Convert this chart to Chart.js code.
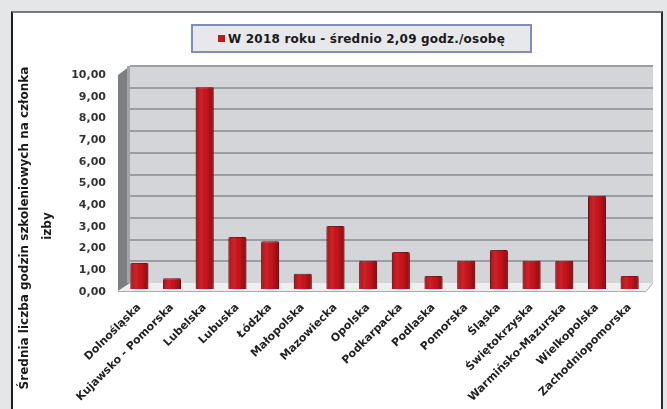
<!doctype html>
<html>
  <head>
    <meta charset="utf-8">
    <title>Średnia liczba godzin szkoleniowych</title>
    <script src="https://cdn.jsdelivr.net/npm/chart.js@4.4.1/dist/chart.umd.min.js"></script>
    <style>
      body { margin:0; background:#e5e6e8; width:667px; height:409px; overflow:hidden; position:relative; font-family:"DejaVu Sans", sans-serif; }
      #ramka { position:absolute; left:11px; top:11px; width:648px; height:400px; background:#fff;
               border-left:2px solid #1e1e1e; border-top:2px solid #7a7a7a; border-right:2px solid #2a2a2a; }
      #wykres { position:absolute; left:0; top:0; }
      #legenda { position:absolute; left:191px; top:24px; width:341px; height:29px; box-sizing:border-box;
                 border:2px solid #7f8dbd; background:#e7e8eb; display:flex; align-items:center; justify-content:center;
                 font:bold 12px "DejaVu Sans", sans-serif; letter-spacing:0.2px; color:#1a1a1a; }
      #legenda span.kolor { display:inline-block; width:7px; height:7px; margin-right:3px; }
    </style>
  </head>
  <body>
    <div id="ramka"></div>
    <canvas id="wykres" width="667" height="409"></canvas>
    <div id="legenda"></div>
    <script>
      const wojewodztwa = ['Dolnośląska','Kujawsko - Pomorska','Lubelska','Lubuska','Łódzka','Małopolska',
        'Mazowiecka','Opolska','Podkarpacka','Podlaska','Pomorska','Śląska','Świętokrzyska',
        'Warmińsko-Mazurska','Wielkopolska','Zachodniopomorska'];
      const godziny = [1.2, 0.5, 9.3, 2.4, 2.2, 0.7, 2.9, 1.3, 1.7, 0.6, 1.3, 1.8, 1.3, 1.3, 4.3, 0.6];
      const seriaNazwa = 'W 2018 roku - średnio 2,09 godz./osobę';
      const osYTytul = ['Średnia liczba godzin szkoleniowych na członka', 'izby'];
      const osYMin = 0, osYMax = 10, osYKrok = 1;

      // sciany "3D": tylna sciana z liniami siatki, lewa sciana i podloga
      const sciany = {
        id: 'sciany',
        beforeDatasetsDraw(chart) {
          const ctx = chart.ctx, a = chart.chartArea, y = chart.scales.y;
          const gx = 7, gy = 6;
          const zero = y.getPixelForValue(osYMin), gora = y.getPixelForValue(osYMax);
          ctx.save();
          // tylna sciana
          ctx.fillStyle = '#d3d5d8';
          ctx.fillRect(a.left + gx, gora - gy, a.right - a.left, zero - gora);
          // linie siatki
          ctx.strokeStyle = '#9b9ea2';
          ctx.lineWidth = 2;
          for (let v = osYMin + osYKrok; v <= osYMax; v += osYKrok) {
            const p = Math.round(y.getPixelForValue(v) - gy);
            ctx.beginPath();
            ctx.moveTo(a.left + gx, p);
            ctx.lineTo(a.right + gx, p);
            ctx.stroke();
          }
          // podloga
          ctx.fillStyle = '#eeeff0';
          ctx.beginPath();
          ctx.moveTo(a.left - 5, zero + 2);
          ctx.lineTo(a.right, zero + 2);
          ctx.lineTo(a.right + gx, zero - gy);
          ctx.lineTo(a.left + gx, zero - gy);
          ctx.closePath();
          ctx.fill();
          ctx.strokeStyle = '#a8abaf';
          ctx.lineWidth = 1;
          ctx.beginPath();
          ctx.moveTo(a.left - 5, zero + 2.5);
          ctx.lineTo(a.right, zero + 2.5);
          ctx.lineTo(a.right + gx, zero - gy);
          ctx.stroke();
          // lewa sciana
          ctx.fillStyle = '#7c7e82';
          ctx.beginPath();
          ctx.moveTo(a.left - 5, gora + 3);
          ctx.lineTo(a.left + gx, gora - gy);
          ctx.lineTo(a.left + gx, zero - gy);
          ctx.lineTo(a.left - 5, zero + 2);
          ctx.closePath();
          ctx.fill();
          ctx.fillStyle = '#a2a4a8';
          ctx.fillRect(a.left + gx - 3, gora - gy, 3, zero - gora);
          ctx.restore();
        },
        afterDatasetsDraw(chart) {
          // cieniowanie slupkow, zeby wygladaly na walce
          const ctx = chart.ctx;
          ctx.save();
          chart.getDatasetMeta(0).data.forEach(bar => {
            const l = bar.x - bar.width / 2, r = bar.x + bar.width / 2;
            const g = ctx.createLinearGradient(l, 0, r, 0);
            g.addColorStop(0, 'rgba(60,0,0,0.35)');
            g.addColorStop(0.35, 'rgba(255,120,120,0.12)');
            g.addColorStop(0.6, 'rgba(0,0,0,0)');
            g.addColorStop(1, 'rgba(60,0,0,0.4)');
            ctx.fillStyle = g;
            ctx.fillRect(l, bar.y, bar.width, bar.base - bar.y);
          });
          ctx.restore();
        },
        afterDraw(chart) {
          // tytul osi Y w dwoch wierszach
          const ctx = chart.ctx;
          ctx.save();
          ctx.fillStyle = '#1a1a1a';
          ctx.font = 'bold 12px "DejaVu Sans"';
          ctx.textAlign = 'center';
          ctx.textBaseline = 'middle';
          [[25, 228], [48, 226]].forEach((p, i) => {
            ctx.save();
            ctx.translate(p[0], p[1]);
            ctx.rotate(-Math.PI / 2);
            ctx.fillText(osYTytul[i], 0, 0);
            ctx.restore();
          });
          ctx.restore();
        }
      };

      // legenda w HTML z elementow legendy wykresu
      const legendaHtml = {
        id: 'legendaHtml',
        afterUpdate(chart) {
          const box = document.getElementById('legenda');
          box.innerHTML = '';
          chart.options.plugins.legend.labels.generateLabels(chart).forEach(item => {
            const k = document.createElement('span');
            k.className = 'kolor';
            k.style.background = item.fillStyle;
            box.appendChild(k);
            box.appendChild(document.createTextNode(item.text));
          });
        }
      };

      new Chart(document.getElementById('wykres'), {
        type: 'bar',
        data: {
          labels: wojewodztwa,
          datasets: [{
            label: seriaNazwa,
            data: godziny,
            backgroundColor: '#c8141c',
            borderColor: '#8f0c12',
            borderWidth: 1,
            borderRadius: 2,
            borderSkipped: 'bottom',
            barPercentage: 0.55,
            categoryPercentage: 1
          }]
        },
        options: {
          responsive: false,
          animation: false,
          layout: { padding: { top: 72, right: 21, bottom: 0, left: 0 } },
          plugins: {
            legend: { display: false },
            tooltip: { enabled: false }
          },
          scales: {
            x: {
              grid: { display: false, drawTicks: false },
              border: { display: false },
              ticks: {
                autoSkip: false, minRotation: 45, maxRotation: 45, padding: 12,
                color: '#222', font: { family: 'DejaVu Sans', size: 11, weight: 'bold' }
              },
              afterFit: s => { s.height = 120; }
            },
            y: {
              min: osYMin, max: osYMax,
              grid: { display: false, drawTicks: false },
              border: { display: false },
              ticks: {
                stepSize: osYKrok, padding: 17, labelOffset: 3,
                color: '#333', font: { family: 'DejaVu Sans', size: 11, weight: 'bold' },
                callback: v => v.toFixed(2).replace('.', ',')
              },
              afterFit: s => { s.width = 123; }
            }
          }
        },
        plugins: [sciany, legendaHtml]
      });
    </script>
  </body>
</html>
